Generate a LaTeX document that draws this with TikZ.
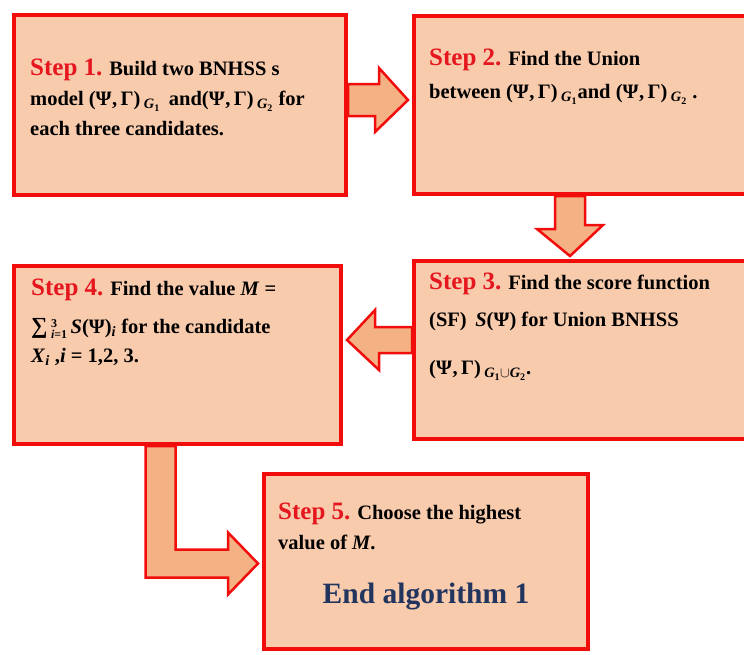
\documentclass[tikz,border=0pt]{standalone}
\usepackage{fontspec}
\setmainfont{Liberation Serif}
\usepackage{xcolor}
\usepackage{tikz}
\usetikzlibrary{calc,shadows}
\definecolor{algred}{HTML}{F20D0D}
\definecolor{algpeach}{HTML}{F8CBAD}
\definecolor{algorange}{HTML}{F4B183}
\definecolor{algstep}{HTML}{E5161D}
\definecolor{algnavy}{HTML}{22355E}
\newcommand{\steplabel}[1]{{\fontsize{25}{30}\selectfont\color{algstep}#1}}
\newcommand{\PsiGam}{(Ψ\kern.5pt,\,Γ)}

\begin{document}
\begin{tikzpicture}[x=1pt, y=-1pt,
    stepbox/.style={rectangle, draw=algred, fill=algpeach, line width=4pt, inner sep=0pt,
        drop shadow={shadow xshift=1pt, shadow yshift=-2pt, opacity=0.25}},
    steptext/.style={anchor=north west, inner sep=0pt, align=left,
        font=\fontsize{20.5}{30}\selectfont\bfseries},
    blockarr/.style={draw=algred, fill=algorange, line width=2.5pt, line join=miter}
]
    \clip (0,0) rectangle (744,654);

    % Step 1
    \node (b1) [stepbox, minimum width=332pt, minimum height=180pt] at (180,105) {};
    \node (t1) [steptext] at ($(b1.north west)+(18,46)$) {%
        \steplabel{Step 1.} Build two BNHSS s\\
        model \PsiGam\,\textsubscript{\textit{G}\textsubscript{1}}\, and\PsiGam\,\textsubscript{\textit{G}\textsubscript{2}} for\\
        each three candidates.};

    % Step 2
    \node (b2) [stepbox, minimum width=356pt, minimum height=178pt] at (592,105) {};
    \node (t2) [steptext, font=\fontsize{20.5}{33}\selectfont\bfseries] at ($(b2.north west)+(17,35)$) {%
        \steplabel{Step 2.} Find the Union\\
        between \PsiGam\,\textsubscript{\textit{G}\textsubscript{1}}and \PsiGam\,\textsubscript{\textit{G}\textsubscript{2}} .};

    % Step 3
    \node (b3) [stepbox, minimum width=356pt, minimum height=178pt] at (592,350) {};
    \node (t3) [steptext, font=\fontsize{20.5}{37}\selectfont\bfseries] at ($(b3.north west)+(17,14)$) {%
        \steplabel{Step 3.} Find the score function\\
        (SF)\, \textit{S}(Ψ) for Union BNHSS\\[11pt]
        \PsiGam\,\textsubscript{\textit{G}\textsubscript{1}\(\cup\)\textit{G}\textsubscript{2}}.};

    % Step 4
    \node (b4) [stepbox, minimum width=327pt, minimum height=178pt] at (177.5,355) {};
    \node (t4) [steptext, font=\fontsize{20.5}{34}\selectfont\bfseries] at ($(b4.north west)+(19,15)$) {%
        \steplabel{Step 4.} Find the value \textit{M} =\\[4pt]
        {\fontsize{23}{30}\selectfont ∑}\,\raisebox{-0.5ex}{\fontsize{12}{12.5}\selectfont\shortstack[l]{3\\\textit{i}=1}}\,\textit{S}(Ψ)\textsubscript{\textit{i}} for the candidate\\[-5pt]
        \textit{X}\textsubscript{\textit{i}} ,\textit{i} = 1,2, 3.};

    % Step 5
    \node (b5) [stepbox, minimum width=324pt, minimum height=175pt] at (426,561.5) {};
    \node (t5) [steptext] at ($(b5.north west)+(16,31)$) {%
        \steplabel{Step 5.} Choose the highest\\
        value of \textit{M}.};
    \node (e5) [anchor=base, inner sep=0pt, font=\fontsize{29.5}{30}\selectfont\bfseries, text=algnavy]
        at ($(b5.center)+(0,41.5)$) {End algorithm 1};

    % block arrows
    \coordinate (a1s) at ($(b1.east)+(0,-5)$);
    \coordinate (a1t) at ($(b2.west)+(-4,-5)$);
    \draw[blockarr] ($(a1s)+(0,-16)$) -- ++(31,0) -- ++(0,-16) -- (a1t) -- ++(-33,32)
        -- ++(0,-16) -- ($(a1s)+(0,16)$) -- cycle;

    \coordinate (a2s) at ($(b2.south)+(-22,0)$);
    \coordinate (a2t) at ($(b3.north)+(-22,-3)$);
    \draw[blockarr] ($(a2s)+(-15,0)$) -- ++(0,33) -- ++(-18,0) -- (a2t) -- ++(33,-31)
        -- ++(-18,0) -- ($(a2s)+(15,0)$) -- cycle;

    \coordinate (a3s) at ($(b3.west)+(0,-10)$);
    \coordinate (a3t) at ($(b4.east)+(4,-15)$);
    \draw[blockarr] ($(a3s)+(0,-13)$) -- ++(-37,0) -- ++(0,-17) -- (a3t) -- ++(32,30)
        -- ++(0,-17) -- ($(a3s)+(0,13)$) -- cycle;

    \coordinate (a4t) at ($(b5.west)+(-4,2)$);
    \draw[blockarr] ($(b4.south)+(-32,0)$) |- ($(a4t)+(-30,14)$) -- ++(0,17) -- (a4t)
        -- ++(-30,-31) -- ++(0,17) -| ($(b4.south)+(-2,0)$) -- cycle;
\end{tikzpicture}
\end{document}
